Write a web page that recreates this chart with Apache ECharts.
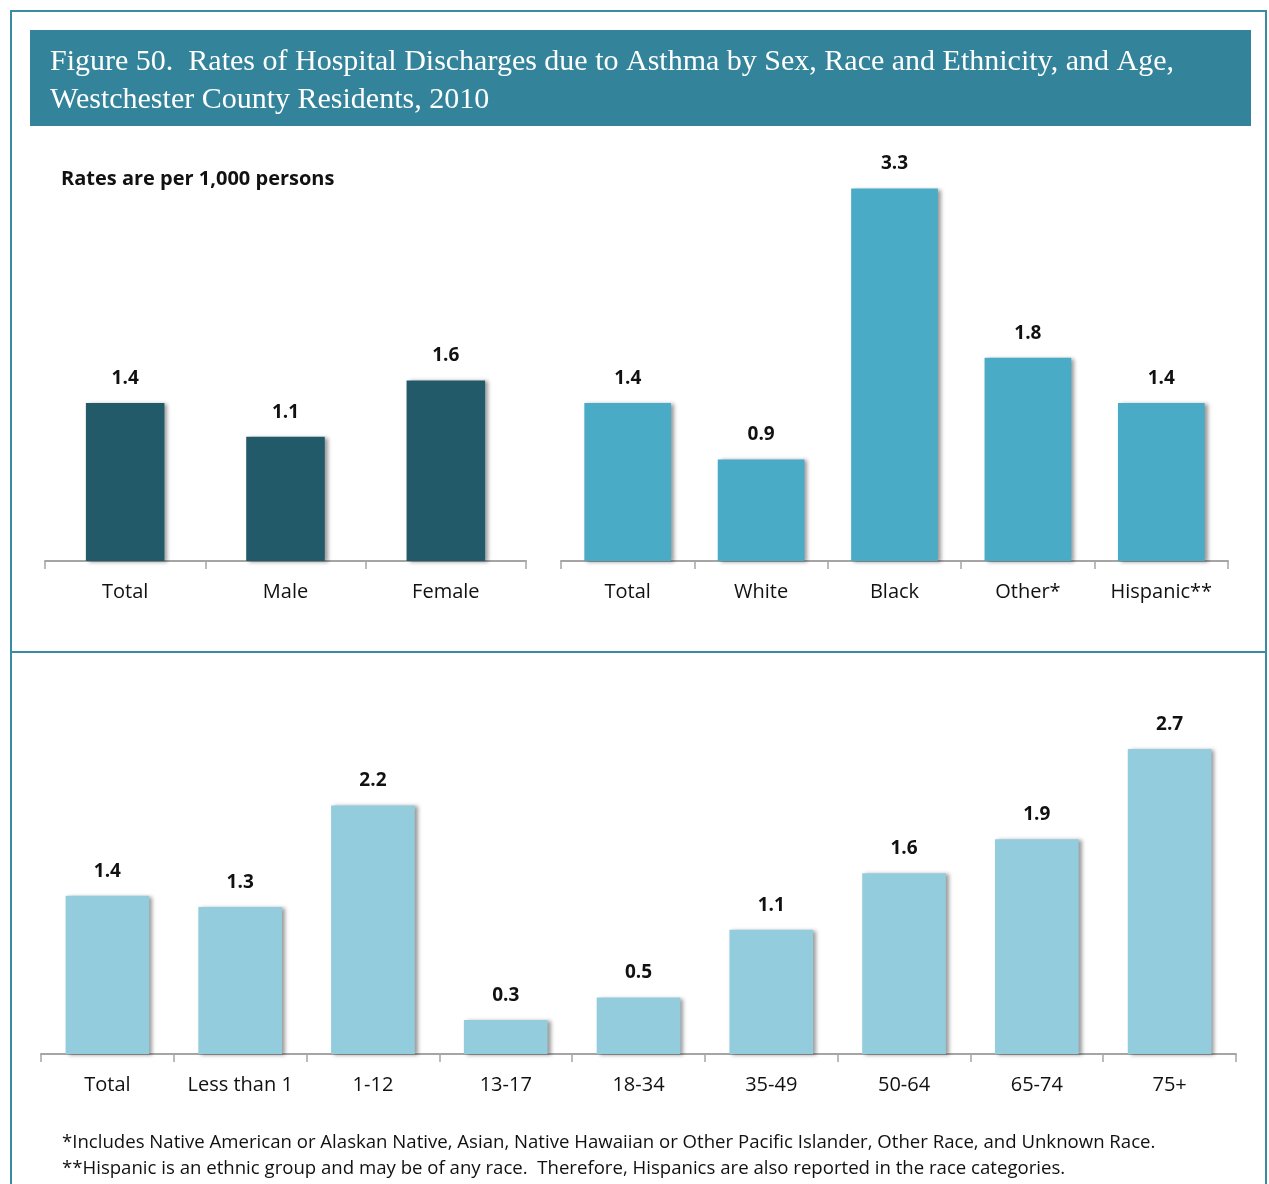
<!DOCTYPE html>
<html>
<head>
<meta charset="utf-8">
<script src="https://cdn.jsdelivr.net/npm/echarts@6/dist/echarts.min.js"></script>
<style>
  html, body { margin: 0; padding: 0; background: #fff; }
  #main { width: 1269px; height: 1184px; }
</style>
</head>
<body>
<div id="main"></div>
<script>
// data
var sexCats = ['Total', 'Male', 'Female'];
var sexVals = [1.4, 1.1, 1.6];
var raceCats = ['Total', 'White', 'Black', 'Other*', 'Hispanic**'];
var raceVals = [1.4, 0.9, 3.3, 1.8, 1.4];
var ageCats = ['Total', 'Less than 1', '1-12', '13-17', '18-34', '35-49', '50-64', '65-74', '75+'];
var ageVals = [1.4, 1.3, 2.2, 0.3, 0.5, 1.1, 1.6, 1.9, 2.7];

var titleLines = 'Figure 50.  Rates of Hospital Discharges due to Asthma by Sex, Race and Ethnicity, and Age,\nWestchester County Residents, 2010';
var noteLines = '*Includes Native American or Alaskan Native, Asian, Native Hawaiian or Other Pacific Islander, Other Race, and Unknown Race.\n**Hispanic is an ethnic group and may be of any race.  Therefore, Hispanics are also reported in the race categories.';

var font = '"Open Sans", Lato, sans-serif';

function xAx(idx, cats) {
    return {
        type: 'category',
        gridIndex: idx,
        data: cats,
        axisLine: { lineStyle: { color: '#a5a5a5', width: 2 } },
        axisTick: { show: true, length: 8, lineStyle: { color: '#a5a5a5', width: 1.5 } },
        axisLabel: { interval: 0, color: '#111', fontSize: 20, fontFamily: font, margin: 21 }
    };
}
function yAx(idx, max) {
    return { type: 'value', gridIndex: idx, min: 0, max: max, show: false };
}
function barSeries(idx, vals, color, gap) {
    return {
        type: 'bar',
        xAxisIndex: idx,
        yAxisIndex: idx,
        data: vals,
        barCategoryGap: gap,
        itemStyle: {
            color: color,
            shadowColor: 'rgba(0,0,0,0.4)',
            shadowBlur: 4,
            shadowOffsetX: 3,
            shadowOffsetY: 1
        },
        label: {
            show: true,
            position: 'top',
            distance: 15,
            color: '#111',
            fontSize: 19,
            fontWeight: 'bold',
            fontFamily: font,
            formatter: function (p) { return p.value.toFixed(1); }
        }
    };
}

var chart = echarts.init(document.getElementById('main'));
var option = {
    animation: false,
    grid: [
        { left: 45, width: 481, top: 166, height: 395 },
        { left: 561, width: 667, top: 166, height: 395 },
        { left: 41, width: 1195, top: 715, height: 339 }
    ],
    xAxis: [xAx(0, sexCats), xAx(1, raceCats), xAx(2, ageCats)],
    yAxis: [yAx(0, 3.5), yAx(1, 3.5), yAx(2, 3)],
    series: [
        barSeries(0, sexVals, '#225a69', '51%'),
        barSeries(1, raceVals, '#4aabc6', '35%'),
        barSeries(2, ageVals, '#93cddd', '37%')
    ],
    graphic: [
        { type: 'rect', shape: { x: 11, y: 11, width: 1255, height: 1190 },
          style: { fill: 'none', stroke: '#3a8ba4', lineWidth: 2 }, z: 0 },
        { type: 'line', shape: { x1: 11, y1: 652, x2: 1266, y2: 652 },
          style: { stroke: '#3a8ba4', lineWidth: 2 } },
        { type: 'rect', shape: { x: 30, y: 30, width: 1221, height: 96 },
          style: { fill: '#33849b' } },
        { type: 'text', x: 50, y: 43,
          style: { text: titleLines, fill: '#fff', font: '30px "Liberation Serif", serif', lineHeight: 38 } },
        { type: 'text', x: 61, y: 169,
          style: { text: 'Rates are per 1,000 persons', fill: '#111', font: 'bold 20px ' + font } },
        { type: 'text', x: 62, y: 1130,
          style: { text: noteLines, fill: '#111', font: '18.6px ' + font, lineHeight: 26 } }
    ]
};
chart.setOption(option);
window.addEventListener('resize', function () { chart.resize(); });
</script>
</body>
</html>
